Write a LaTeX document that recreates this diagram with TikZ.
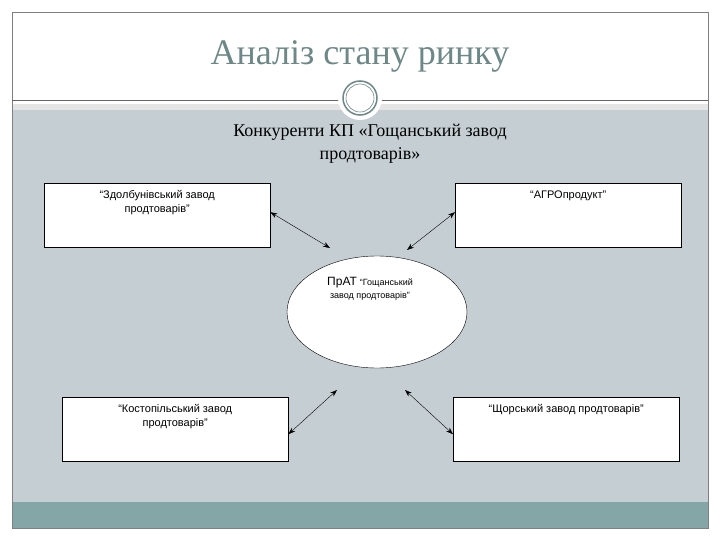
\documentclass[tikz,border=0pt]{standalone}
\usepackage{fontspec}
\usetikzlibrary{shapes.geometric,arrows.meta}
\setmainfont{Liberation Serif}
\newfontfamily\boxfont{Liberation Sans}
\definecolor{panel}{RGB}{197,207,211}
\definecolor{barc}{RGB}{132,166,166}
\definecolor{titc}{RGB}{110,135,135}
\begin{document}
\begin{tikzpicture}[x=1pt,y=-1pt,
  bx/.style={draw=black,fill=white,minimum width=226pt,minimum height=64pt,anchor=north west,inner sep=0pt},
  bt/.style={font=\boxfont\fontsize{11}{14}\selectfont,align=center},
  arr/.style={{Stealth[length=7pt,width=5pt]}-{Stealth[length=7pt,width=5pt]},thin}]
\useasboundingbox (0,0) rectangle (720,540);
\fill[white] (0,0) rectangle (720,540);
\fill[white] (12,12) rectangle (708,110);
\fill[white!80!gray] (12,104) rectangle (708,110);
\fill[panel] (12,110) rectangle (708,502);
\fill[barc] (12,502) rectangle (708,528);
\draw[gray] (12,12) rectangle (708,528);
\draw[gray!80!black] (12,100) -- (708,100);
\fill[white] (360,98) circle (22);
\draw[titc,line width=1.5pt] (360,98) circle (17);
\draw[titc,line width=0.6pt] (360,98) circle (14);
\node[text=titc,font=\fontsize{36}{40}\selectfont] (title) at (360,56) {Аналіз стану ринку};
\node[font=\fontsize{18}{23}\selectfont,align=center] (sub) at (370,144) {Конкуренти КП «Гощанський завод\\продтоварів»};
\node[bx] (a) at (44,183) {};
\node[bt,anchor=north] at ([yshift=-4pt]a.north) {“Здолбунівський завод\\продтоварів”};
\node[bx] (b) at (455,183) {};
\node[bt,anchor=north] at ([yshift=-4pt]b.north) {“АГРОпродукт”};
\node[bx] (c) at (62,397) {};
\node[bt,anchor=north] at ([yshift=-4pt]c.north) {“Костопільський завод\\продтоварів”};
\node[bx] (d) at (453,397) {};
\node[bt,anchor=north] at ([yshift=-4pt]d.north) {“Щорський завод продтоварів”};
\node[draw=black,fill=white,ellipse,minimum width=180pt,minimum height=112pt,inner sep=0pt] (e) at (377,312) {};
\node[bt,anchor=north] (et) at (370,274) {{\fontsize{12}{14}\selectfont ПрАТ} {\fontsize{9}{14}\selectfont“Гощанський}\\[-1pt]{\fontsize{9}{11}\selectfont завод продтоварів”}};
\coordinate (e1) at (330,248);
\coordinate (e2) at (407,250);
\coordinate (e3) at (337,390);
\coordinate (e4) at (405,390);
\draw[arr] (a.east) ++(0,-3) -- (e1);
\draw[arr] (b.west) ++(0,-3) -- (e2);
\draw[arr] (c.east) ++(0,5) -- (e3);
\draw[arr] (d.west) ++(0,5) -- (e4);
\end{tikzpicture}
\end{document}
